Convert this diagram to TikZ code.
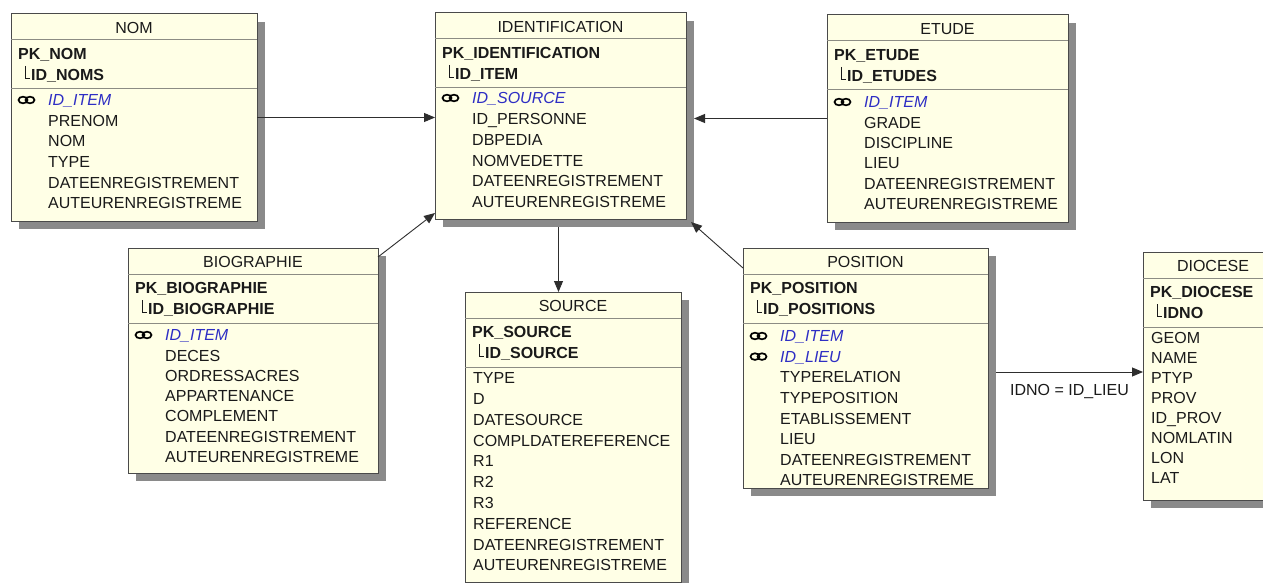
\documentclass[tikz,border=0pt]{standalone}
\usepackage{fontspec}
\setmainfont{Liberation Sans}
\usetikzlibrary{positioning,arrows.meta,calc}
\definecolor{tblfill}{HTML}{FFFFE6}
\definecolor{tbledge}{HTML}{4A4A4A}
\definecolor{tblsep}{HTML}{8C8C84}
\definecolor{tblshadow}{HTML}{8A8A8A}
\definecolor{fkblue}{HTML}{2E2EC4}
\definecolor{txtink}{HTML}{1A1A1A}
\definecolor{linkink}{HTML}{2E2E2E}

% frame of one table: name, left, top, width, height, title, key, key column
\newcommand{\ertable}[8]{%
  \fill[tblshadow] (#2+8,-#3-8) rectangle ++(#4,-#5);
  \node[tbl, minimum width=#4pt, minimum height=#5pt] (#1) at (#2,-#3) {};
  \node[ttl] (#1-title) at ($(#1.north)+(0,-13.5)$) {#6};
  \draw[sepline] ($(#1.north west)+(0,-26)$) -- ($(#1.north east)+(0,-26)$);
  \node[pkey] (#1-pk) at ($(#1.north west)+(7,-40)$) {#7};
  \node[pkey] (#1-pkcol) at ($(#1.north west)+(20,-61)$) {#8};
  \draw[treeline] ($(#1.north west)+(14,-52)$) |- ($(#1.north west)+(19,-64)$);
  \draw[sepline] ($(#1.north west)+(0,-75)$) -- ($(#1.north east)+(0,-75)$);
}
% link icon in front of a foreign key field
\newcommand{\fkicon}[1]{%
  \draw[iconline] ($(#1.west)+(-25,0)$) ellipse [x radius=4.5pt, y radius=3.3pt];
  \draw[iconline] ($(#1.west)+(-18,0)$) ellipse [x radius=4.5pt, y radius=3.3pt];
}

\begin{document}
\fontsize{16pt}{19pt}\selectfont
\begin{tikzpicture}[
    x=1pt, y=1pt,
    tbl/.style={draw=tbledge, fill=tblfill, line width=1pt, anchor=north west,
                inner sep=0pt, outer sep=0pt},
    ttl/.style={text=txtink, inner sep=0pt, text height=11.5pt, text depth=0pt},
    pkey/.style={font=\bfseries, text=txtink, anchor=west, inner sep=0pt,
                 text height=11.5pt, text depth=0pt},
    field/.style={text=txtink, anchor=west, inner sep=0pt,
                  text height=11.5pt, text depth=0pt},
    fkfield/.style={field, text=fkblue, font=\itshape},
    sepline/.style={draw=tblsep, line width=1pt},
    treeline/.style={draw=txtink, line width=0.6pt},
    iconline/.style={draw=black, line width=1.7pt},
    relarrow/.style={draw=linkink, line width=0.9pt, -{Triangle[length=11pt,width=9pt]}},
    lbl/.style={text=txtink, inner sep=0pt},
  ]
  \useasboundingbox (0,0) rectangle (1263,-583);
  \fill[white] (0,0) rectangle (1263,-583);

  % NOM
  \ertable{nom}{11}{14}{246}{207}{NOM}{PK\_NOM}{ID\_NOMS}
  \node[fkfield] (nom-1) at ($(nom.north west)+(37,-86)$) {ID\_ITEM};
  \fkicon{nom-1}
  \foreach \fld [count=\i from 2] in {PRENOM,NOM,TYPE,DATEENREGISTREMENT,AUTEURENREGISTREME}
    \node[field] (nom-\i) at ($(nom.north west)+(37,-86-20.6*\i+20.6)$) {\fld};

  % IDENTIFICATION
  \ertable{ident}{435}{13}{251}{206}{IDENTIFICATION}{PK\_IDENTIFICATION}{ID\_ITEM}
  \node[fkfield] (ident-1) at ($(ident.north west)+(37,-85)$) {ID\_SOURCE};
  \fkicon{ident-1}
  \foreach \fld [count=\i from 2] in {ID\_PERSONNE,DBPEDIA,NOMVEDETTE,DATEENREGISTREMENT,AUTEURENREGISTREME}
    \node[field] (ident-\i) at ($(ident.north west)+(37,-85-20.8*\i+20.8)$) {\fld};

  % ETUDE
  \ertable{etude}{827}{15}{241}{207}{ETUDE}{PK\_ETUDE}{ID\_ETUDES}
  \node[fkfield] (etude-1) at ($(etude.north west)+(37,-87)$) {ID\_ITEM};
  \fkicon{etude-1}
  \foreach \fld [count=\i from 2] in {GRADE,DISCIPLINE,LIEU,DATEENREGISTREMENT,AUTEURENREGISTREME}
    \node[field] (etude-\i) at ($(etude.north west)+(37,-87-20.4*\i+20.4)$) {\fld};

  % BIOGRAPHIE
  \ertable{bio}{128}{248}{250}{225}{BIOGRAPHIE}{PK\_BIOGRAPHIE}{ID\_BIOGRAPHIE}
  \node[fkfield] (bio-1) at ($(bio.north west)+(37,-87)$) {ID\_ITEM};
  \fkicon{bio-1}
  \foreach \fld [count=\i from 2] in {DECES,ORDRESSACRES,APPARTENANCE,COMPLEMENT,DATEENREGISTREMENT,AUTEURENREGISTREME}
    \node[field] (bio-\i) at ($(bio.north west)+(37,-87-20.3*\i+20.3)$) {\fld};

  % SOURCE
  \ertable{src}{465}{292}{216}{290}{SOURCE}{PK\_SOURCE}{ID\_SOURCE}
  \foreach \fld [count=\i] in {TYPE,D,DATESOURCE,COMPLDATEREFERENCE,R1,R2,R3,REFERENCE,DATEENREGISTREMENT,AUTEURENREGISTREME}
    \node[field] (src-\i) at ($(src.north west)+(8,-86-20.8*\i+20.8)$) {\fld};

  % POSITION
  \ertable{pos}{743}{248}{245}{240}{POSITION}{PK\_POSITION}{ID\_POSITIONS}
  \node[fkfield] (pos-1) at ($(pos.north west)+(37,-88)$) {ID\_ITEM};
  \fkicon{pos-1}
  \node[fkfield] (pos-2) at ($(pos.north west)+(37,-108.6)$) {ID\_LIEU};
  \fkicon{pos-2}
  \foreach \fld [count=\i from 3] in {TYPERELATION,TYPEPOSITION,ETABLISSEMENT,LIEU,DATEENREGISTREMENT,AUTEURENREGISTREME}
    \node[field] (pos-\i) at ($(pos.north west)+(37,-88-20.6*\i+20.6)$) {\fld};

  % DIOCESE
  \ertable{dio}{1143}{252}{140}{248}{DIOCESE}{PK\_DIOCESE}{IDNO}
  \foreach \fld [count=\i] in {GEOM,NAME,PTYP,PROV,ID\_PROV,NOMLATIN,LON,LAT}
    \node[field] (dio-\i) at ($(dio.north west)+(8,-86-20*\i+20)$) {\fld};

  % relations
  \draw[relarrow] (nom) -- (nom -| ident.west);
  \draw[relarrow] (etude) -- ([xshift=8pt]etude -| ident.east);
  \draw[relarrow] ([yshift=-9pt]bio.north east) -- ([yshift=6pt]ident.south west);
  \draw[relarrow] ([yshift=-20pt]pos.north west) -- ([xshift=5pt,yshift=-3pt]ident.south east);
  \draw[relarrow] ([xshift=-2pt,yshift=-8pt]ident.south) -- ([xshift=-2pt]ident.south |- src.north);
  \draw[relarrow] ([xshift=8pt,yshift=-4pt]pos.east) -- ([yshift=-4pt]pos.east -| dio.west)
    node[lbl, midway, yshift=-20pt] (joinlbl) {IDNO = ID\_LIEU};
\end{tikzpicture}
\end{document}
